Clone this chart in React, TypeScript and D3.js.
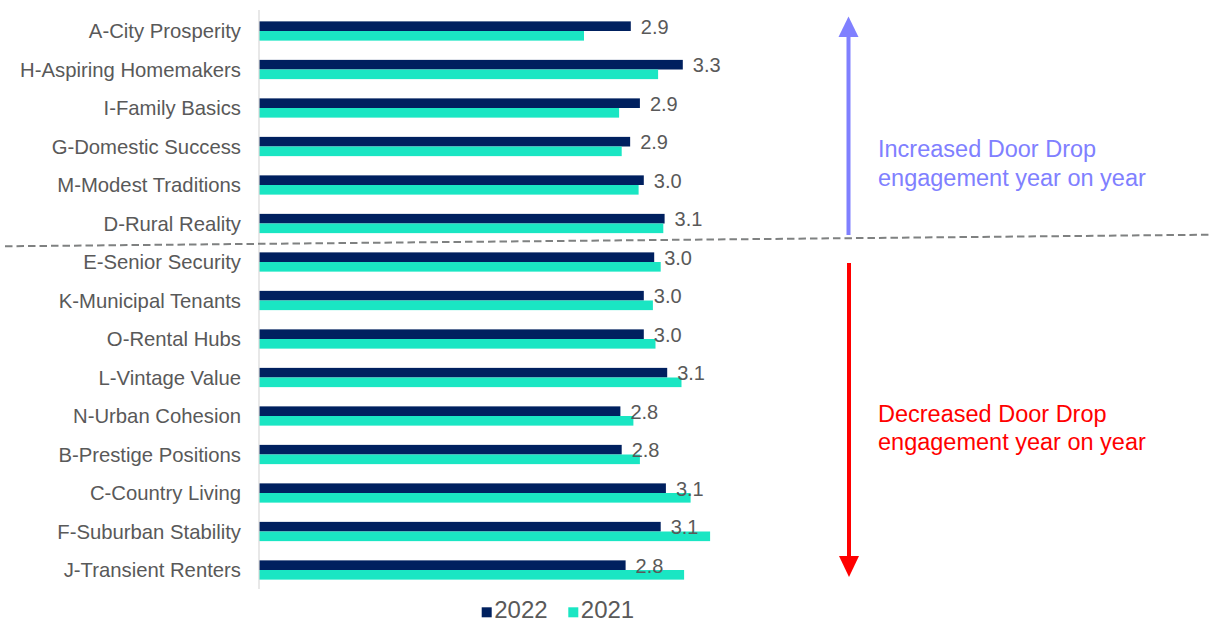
import React, { useEffect, useRef } from "react";
import * as d3 from "d3";

const categories = [
  "A-City Prosperity",
  "H-Aspiring Homemakers",
  "I-Family Basics",
  "G-Domestic Success",
  "M-Modest Traditions",
  "D-Rural Reality",
  "E-Senior Security",
  "K-Municipal Tenants",
  "O-Rental Hubs",
  "L-Vintage Value",
  "N-Urban Cohesion",
  "B-Prestige Positions",
  "C-Country Living",
  "F-Suburban Stability",
  "J-Transient Renters",
];
const values2022 = [2.86, 3.26, 2.93, 2.855, 2.96, 3.12, 3.04, 2.96, 2.96, 3.14, 2.78, 2.79, 3.13, 3.09, 2.82];
const values2021 = [2.5, 3.07, 2.77, 2.79, 2.92, 3.11, 3.09, 3.03, 3.05, 3.25, 2.88, 2.93, 3.32, 3.47, 3.27];
const seriesNames = ["2022", "2021"];
const seriesColors = ["#00205f", "#1ae6c3"];

const W = 1209;
const H = 623;
const FONT = "Arial, 'Liberation Sans', sans-serif";

export default function App() {
  const ref = useRef<SVGSVGElement | null>(null);

  useEffect(() => {
    document.body.style.margin = "0";
    const svg = d3.select(ref.current);
    svg.selectAll("*").remove();

    const x = d3.scaleLinear().domain([0, 4]).range([259, 779]);
    const y = d3
      .scaleBand<string>()
      .domain(categories)
      .range([11.75, 589.25])
      .paddingInner(0.5)
      .paddingOuter(0.25);
    const sub = d3.scaleBand<string>().domain(seriesNames).range([0, y.bandwidth()]);

    const rows = categories.map((c, i) => ({ c, v: [values2022[i], values2021[i]] }));

    // category labels
    svg
      .append("g")
      .selectAll("text")
      .data(rows)
      .join("text")
      .attr("x", 241)
      .attr("y", (d) => (y(d.c) as number) + y.bandwidth() / 2 + 7.3)
      .attr("text-anchor", "end")
      .attr("font-family", FONT)
      .attr("font-size", 20.3)
      .attr("fill", "#595959")
      .text((d) => d.c);

    // bars
    const g = svg.append("g");
    seriesNames.forEach((s, si) => {
      g.append("g")
        .selectAll("rect")
        .data(rows)
        .join("rect")
        .attr("x", x(0))
        .attr("y", (d) => (y(d.c) as number) + (sub(s) as number))
        .attr("width", (d) => x(d.v[si]) - x(0))
        .attr("height", sub.bandwidth())
        .attr("fill", seriesColors[si]);
    });

    // axis line
    svg
      .append("line")
      .attr("x1", x(0))
      .attr("x2", x(0))
      .attr("y1", 10)
      .attr("y2", 589)
      .attr("stroke", "#d9d9d9")
      .attr("stroke-width", 1.2);

    // value labels (2022)
    const fmt = d3.format(".1f");
    svg
      .append("g")
      .selectAll("text")
      .data(rows)
      .join("text")
      .attr("x", (d) => x(d.v[0]) + 10)
      .attr("y", (d) => (y(d.c) as number) + (sub("2022") as number) + sub.bandwidth() / 2 + 7.5)
      .attr("font-family", FONT)
      .attr("font-size", 20)
      .attr("fill", "#595959")
      .text((d) => fmt(d.v[0]));

    // dashed divider
    svg
      .append("line")
      .attr("x1", 5)
      .attr("y1", 246.3)
      .attr("x2", 1209)
      .attr("y2", 234.7)
      .attr("stroke", "#7f8181")
      .attr("stroke-width", 2)
      .attr("stroke-dasharray", "7.5 4");

    // up arrow
    const blue = "#8080ff";
    svg
      .append("line")
      .attr("x1", 848.5)
      .attr("x2", 848.5)
      .attr("y1", 235)
      .attr("y2", 34)
      .attr("stroke", blue)
      .attr("stroke-width", 4);
    svg
      .append("path")
      .attr("d", "M848.5,16.5 L858.5,37 L838.5,37 Z")
      .attr("fill", blue);

    // down arrow
    const red = "#ff0000";
    svg
      .append("line")
      .attr("x1", 849)
      .attr("x2", 849)
      .attr("y1", 263)
      .attr("y2", 558)
      .attr("stroke", red)
      .attr("stroke-width", 4);
    svg
      .append("path")
      .attr("d", "M849,577 L859,556 L839,556 Z")
      .attr("fill", red);

    const annot = (lines: string[], x0: number, y0: number, color: string) => {
      const t = svg
        .append("text")
        .attr("font-family", FONT)
        .attr("font-size", 23.5)
        .attr("fill", color);
      lines.forEach((l, i) => {
        t.append("tspan").attr("x", x0).attr("y", y0 + i * 28.5).text(l);
      });
    };
    annot(["Increased Door Drop", "engagement year on year"], 878, 157, blue);
    annot(["Decreased Door Drop", "engagement year on year"], 878, 421.5, red);

    // legend
    const legendX = [481.7, 568.3];
    seriesNames.forEach((s, si) => {
      svg
        .append("rect")
        .attr("x", legendX[si])
        .attr("y", 607.3)
        .attr("width", 10)
        .attr("height", 10)
        .attr("fill", seriesColors[si]);
      svg
        .append("text")
        .attr("x", legendX[si] + 12.5)
        .attr("y", 617.7)
        .attr("font-family", FONT)
        .attr("font-size", 24)
        .attr("fill", "#595959")
        .text(s);
    });
  }, []);

  return <svg ref={ref} width={W} height={H} style={{ display: "block", background: "#ffffff" }} />;
}
